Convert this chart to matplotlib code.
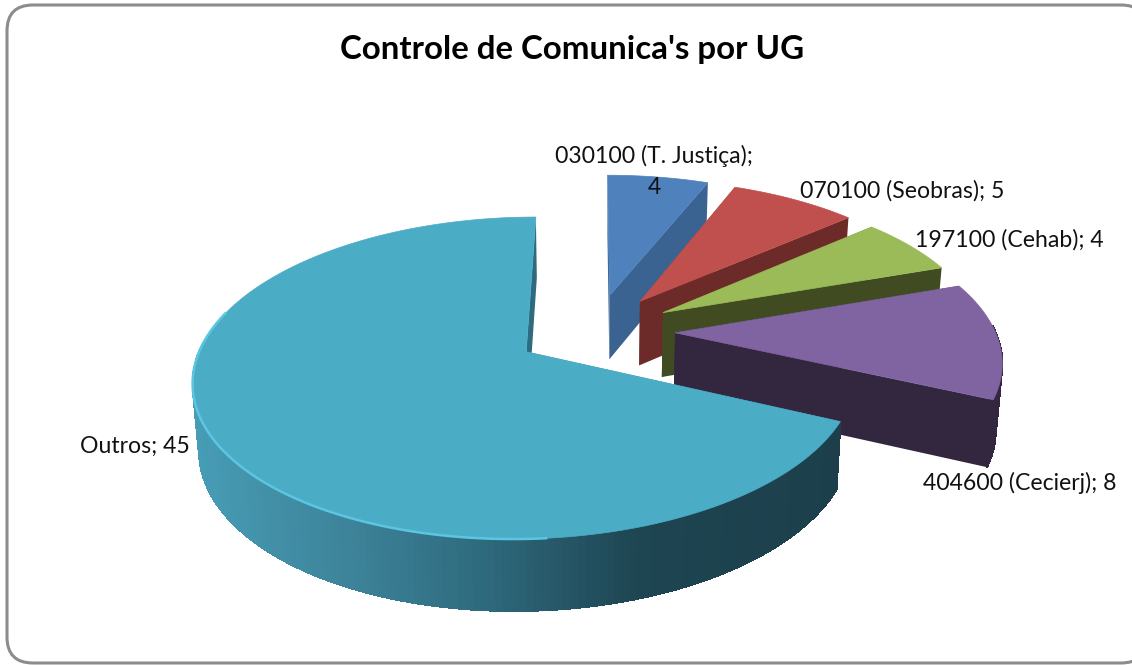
import numpy as np
import matplotlib
matplotlib.use("Agg")
import matplotlib.pyplot as plt
from matplotlib.patches import FancyBboxPatch, Polygon
from matplotlib.colors import to_rgb

plt.rcParams["font.family"] = ["Lato", "DejaVu Sans"]

title = "Controle de Comunica's por UG"
categories = ["030100 (T. Justiça)", "070100 (Seobras)", "197100 (Cehab)", "404600 (Cecierj)", "Outros"]
values = [4, 5, 4, 8, 45]
top_colors = ["#4F81BD", "#C0504D", "#9BBB59", "#8064A2", "#4BACC6"]
wall_colors = ["#3A6391", "#6C2A28", "#404B21", "#33263F", "#2F6B7F"]

# projection of the flat pie, screen units are pixels
cx, cy = 595, 331
rx, ry = 320, 150
persp = 0.16
height = 65
taper = 0.016
explode = 0.25


def project(x, y, z=0):
    w = 1 + persp * y
    return cx + rx * x / w * (1 - taper * z), cy - ry * y / w + height * z / np.sqrt(w)


def outros_wall(px):
    stops_x = [190, 350, 480, 640, 840]
    stops = [to_rgb(c) for c in ["#479DB6", "#3D8399", "#2F6B7F", "#1E4552", "#1C3F4B"]]
    return [np.interp(px, stops_x, [s[i] for s in stops]) for i in range(3)]


fig = plt.figure(figsize=(11.32, 6.65), dpi=100)
ax = fig.add_axes([0, 0, 1, 1])
ax.set_xlim(0, 1132)
ax.set_ylim(665, 0)
ax.axis("off")

ax.add_patch(FancyBboxPatch((7, 5), 1140, 658, boxstyle="round,pad=0,rounding_size=26",
                            fc="white", ec="#8C8C8C", lw=2.2))

edges = np.concatenate([[0], np.cumsum(values)]) / sum(values) * 2 * np.pi

for i in range(len(values)):
    a0, a1 = edges[i], edges[i + 1]
    mid = (a0 + a1) / 2
    ox, oy = explode * np.sin(mid), explode * np.cos(mid)
    th = np.linspace(a0, a1, 220)
    xs = ox + np.sin(th)
    ys = oy + np.cos(th)

    # cut faces
    for a in (a0, a1):
        ex, ey = ox + np.sin(a), oy + np.cos(a)
        face = [project(ox, oy), project(ex, ey), project(ex, ey, 1), project(ox, oy, 1)]
        ax.add_patch(Polygon(face, fc=wall_colors[i], ec="none", zorder=2 + i))

    # outer wall, small pieces so Outros can have its gradient (front part only)
    for j in range(len(th) - 1):
        if np.cos(th[j]) > 0.05:
            continue
        quad = [project(xs[j], ys[j]), project(xs[j + 1], ys[j + 1]),
                project(xs[j + 1], ys[j + 1], 1), project(xs[j], ys[j], 1)]
        col = wall_colors[i]
        if i == 4:
            col = outros_wall(quad[0][0])
        ax.add_patch(Polygon(quad, fc=col, ec=col, lw=0.8, antialiased=False, zorder=2 + i))

    tx, ty = project(xs, ys)
    ax_, ay_ = project(ox, oy)
    top = np.column_stack([np.r_[ax_, tx], np.r_[ay_, ty]])
    ax.add_patch(Polygon(top, fc=top_colors[i], ec=top_colors[i], lw=0.5, zorder=2 + i))

    # bright rim on the front left of the big slice
    if i == 4:
        keep = (th > np.radians(175)) & (th < np.radians(285))
        ax.plot(tx[keep], ty[keep], color="#5CC6E2", lw=1.8, zorder=7, solid_capstyle="round")

ax.text(572, 50, title, ha="center", va="center", fontsize=23.8, fontweight="bold", color="black", zorder=10)

fs = 16.6
ax.text(654, 156, categories[0] + ";", ha="center", va="center", fontsize=fs, color="#111111", zorder=10)
ax.text(654, 187, str(values[0]), ha="center", va="center", fontsize=fs, color="#111111", zorder=10)
ax.text(902, 191, f"{categories[1]}; {values[1]}", ha="center", va="center", fontsize=fs, color="#111111", zorder=10)
ax.text(1009, 240, f"{categories[2]}; {values[2]}", ha="center", va="center", fontsize=fs, color="#111111", zorder=10)
ax.text(1020, 483, f"{categories[3]}; {values[3]}", ha="center", va="center", fontsize=fs, color="#111111", zorder=10)
ax.text(135, 446, f"{categories[4]}; {values[4]}", ha="center", va="center", fontsize=fs, color="#111111", zorder=10)

fig.savefig("out.png", dpi=100)
